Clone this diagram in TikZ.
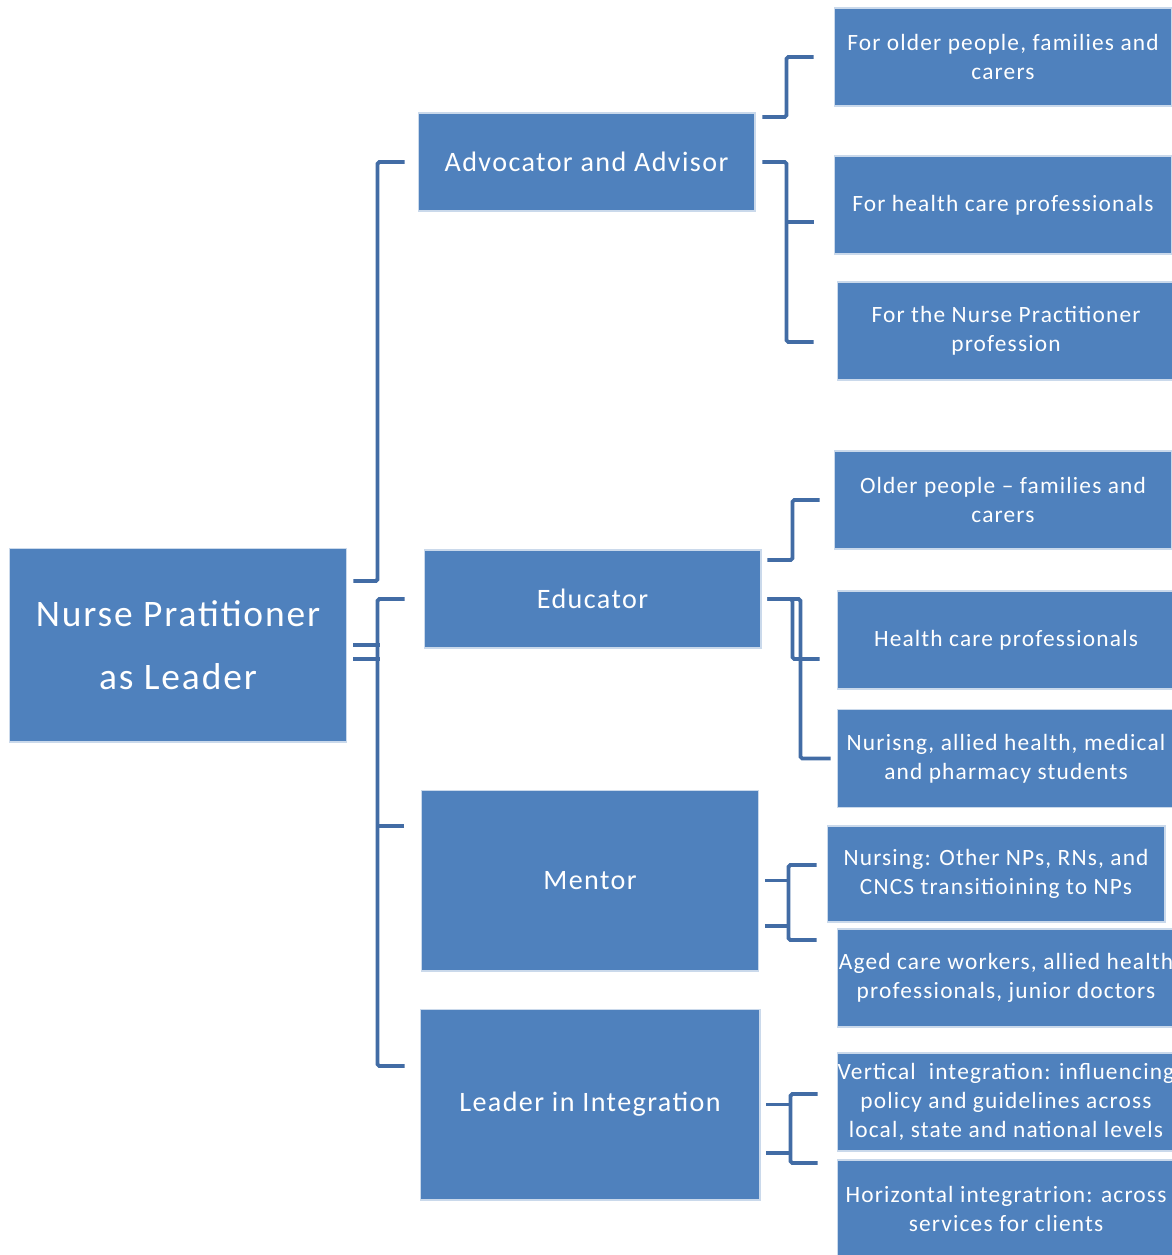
\documentclass[tikz,border=0pt]{standalone}
\usepackage{fontspec}
\setmainfont{Carlito}
\newfontfamily\boxfont[LetterSpace=5]{Carlito}
\usepackage{tikz}
\definecolor{boxblue}{RGB}{79, 129, 189}
\definecolor{linkblue}{RGB}{66, 108, 165}

\tikzset{
    box/.style={fill=boxblue, draw=white!70!boxblue, line width=0.6pt, text=white,
        align=center, inner sep=0pt},
    rootbox/.style={box, minimum width=6.76cm, minimum height=3.88cm,
        font=\boxfont\fontsize{21.3}{36}\selectfont},
    rolebox/.style={box, minimum width=6.74cm, font=\boxfont\fontsize{16}{19}\selectfont},
    targetbox/.style={box, minimum width=6.76cm, minimum height=1.96cm,
        font=\boxfont\fontsize{13.3}{16.5}\selectfont},
    link/.style={draw=linkblue, line width=2.2pt, rounded corners=1pt}
}

\begin{document}
\begin{tikzpicture}[x=0.02cm, y=-0.02cm]
    \useasboundingbox (0,0) rectangle (1172,1255);

    % Leader
    \node[rootbox] (root) at (178,645) {Nurse Pratitioner\\as Leader};

    % Roles
    \node[rolebox, minimum height=1.96cm] (adv) at (586.5,162) {Advocator and Advisor};
    \node[rolebox, minimum height=1.96cm] (edu) at (592.5,599) {Educator};
    \node[rolebox, minimum height=3.62cm] (men) at (590,880.5) {Mentor};
    \node[rolebox, minimum height=3.82cm, minimum width=6.8cm] (lead) at (590,1104.5) {Leader in Integration};

    % Who they serve
    \node[targetbox] (t1) at (1003,57) {For older people, families and\\carers};
    \node[targetbox] (t2) at (1003,205) {For health care professionals};
    \node[targetbox] (t3) at (1006,331) {For the Nurse Practitioner\\profession};
    \node[targetbox] (t4) at (1003,500) {Older people – families and\\carers};
    \node[targetbox] (t5) at (1006,640) {Health care professionals};
    \node[targetbox] (t6) at (1006,758.5) {Nurisng, allied health, medical\\and pharmacy students};
    \node[targetbox, minimum height=1.92cm] (t7) at (996,874) {Nursing: Other NPs, RNs, and\\CNCS transitioining to NPs};
    \node[targetbox] (t8) at (1006,978) {Aged care workers, allied health\\professionals, junior doctors};
    \node[targetbox] (t9) at (1006,1102) {Vertical\ \ integration: influencing\\policy and guidelines across\\local, state and national levels};
    \node[targetbox] (t10) at (1006,1209) {Horizontal integratrion: across\\services for clients};

    % root brackets
    \draw[link] ([xshift=0.12cm,yshift=1.28cm]root.east) -| ([xshift=-0.8cm]adv.west) -- ([xshift=-0.26cm]adv.west);
    \draw[link] ([xshift=0.12cm]root.east) -- ++(27,0);
    \draw[link] ([xshift=0.12cm,yshift=-0.28cm]root.east) -- ++(27,0);
    \draw[link] ([xshift=-0.38cm]edu.west) -- ++(-27,0) |- ([xshift=-0.3cm,yshift=0.77cm]lead.west);
    \draw[link] ([xshift=-0.34cm,yshift=1.09cm]men.west) -- ++(-27,0);

    % advocator brackets
    \draw[link] ([xshift=0.14cm,yshift=0.9cm]adv.east) -- ++(24,0) |- ([xshift=-0.4cm]t1.west);
    \draw[link] ([xshift=0.14cm]adv.east) -- ++(24,0) |- ([xshift=-0.46cm,yshift=-0.22cm]t3.west);
    \draw[link] ([xshift=-0.4cm,yshift=-0.34cm]t2.west) -- ++(-28,0);

    % educator brackets
    \draw[link] ([xshift=0.12cm,yshift=0.78cm]edu.east) -- ++(25,0) |- ([xshift=-0.28cm]t4.west);
    \draw[link] ([xshift=0.12cm]edu.east) -- ++(25,0) |- ([xshift=-0.34cm,yshift=-0.38cm]t5.west);
    \draw[link] ([xshift=0.12cm]edu.east) -- ++(33,0) |- ([xshift=-0.12cm]t6.west);

    % mentor brackets
    \draw[link] ([xshift=0.12cm]men.east) -- ++(25,0);
    \draw[link] ([xshift=0.12cm,yshift=-0.91cm]men.east) -- ++(25,0);
    \draw[link] ([xshift=-0.2cm,yshift=0.18cm]t7.west) -- ++(-28,0) |- ([xshift=-0.4cm,yshift=0.76cm]t8.west);

    % integration brackets
    \draw[link] ([xshift=0.12cm]lead.east) -- ++(25,0);
    \draw[link] ([xshift=0.12cm,yshift=-0.97cm]lead.east) -- ++(25,0);
    \draw[link] ([xshift=-0.38cm,yshift=0.16cm]t9.west) -- ++(-27,0) |- ([xshift=-0.38cm,yshift=0.92cm]t10.west);
\end{tikzpicture}
\end{document}
